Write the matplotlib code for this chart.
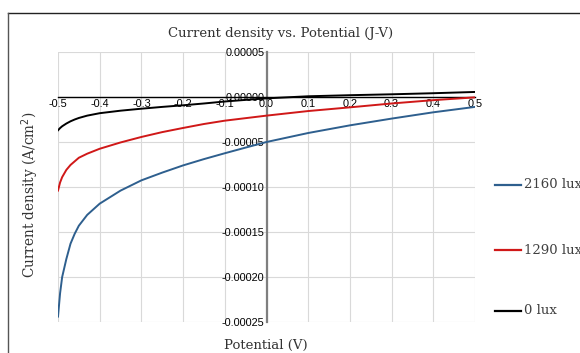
import matplotlib.pyplot as plt
import matplotlib.lines as mlines
from matplotlib import font_manager

# -------------------------
# Data
# -------------------------
potential = [-0.5, -0.495, -0.49, -0.48, -0.47, -0.46, -0.45, -0.43, -0.4, -0.35,
             -0.3, -0.25, -0.2, -0.15, -0.1, -0.05, 0.0, 0.1, 0.2, 0.3, 0.4, 0.5]

j_2160 = [-2.44e-4, -2.18e-4, -2.00e-4, -1.80e-4, -1.63e-4, -1.52e-4, -1.43e-4,
          -1.31e-4, -1.185e-4, -1.04e-4, -0.926e-4, -0.84e-4, -0.76e-4, -0.69e-4,
          -0.625e-4, -0.562e-4, -0.50e-4, -0.40e-4, -0.315e-4, -0.24e-4,
          -0.17e-4, -0.11e-4]

j_1290 = [-1.04e-4, -0.95e-4, -0.89e-4, -0.81e-4, -0.755e-4, -0.715e-4, -0.675e-4,
          -0.63e-4, -0.575e-4, -0.505e-4, -0.444e-4, -0.39e-4, -0.344e-4, -0.30e-4,
          -0.263e-4, -0.235e-4, -0.207e-4, -0.156e-4, -0.115e-4, -0.072e-4,
          -0.035e-4, -0.004e-4]

j_0 = [-3.7e-5, -3.45e-5, -3.25e-5, -2.95e-5, -2.7e-5, -2.5e-5, -2.33e-5, -2.07e-5,
       -1.8e-5, -1.52e-5, -1.3e-5, -1.1e-5, -0.92e-5, -0.72e-5, -0.5e-5, -0.32e-5,
       -0.15e-5, 0.08e-5, 0.2e-5, 0.3e-5, 0.42e-5, 0.56e-5]

series_labels = ["2160 lux", "1290 lux", "0 lux"]
series_colors = ["#2e5f8e", "#d01818", "#000000"]

x_ticks = [-0.5, -0.4, -0.3, -0.2, -0.1, 0.0, 0.1, 0.2, 0.3, 0.4, 0.5]
x_tick_labels = ["-0.5", "-0.4", "-0.3", "-0.2", "-0.1", "0.0", "0.1", "0.2", "0.3", "0.4", "0.5"]
y_ticks = [0.00005, 0.0, -0.00005, -0.0001, -0.00015, -0.0002, -0.00025]
y_tick_labels = ["0.00005", "0.00000", "-0.00005", "-0.00010", "-0.00015", "-0.00020", "-0.00025"]

# -------------------------
# Plot
# -------------------------
serif = "DejaVu Serif"
installed = {f.name for f in font_manager.fontManager.ttflist}
tickfont = "Liberation Sans Narrow" if "Liberation Sans Narrow" in installed else "Liberation Sans"

fig = plt.figure(figsize=(5.8, 3.53), dpi=100)
ax = fig.add_axes([58 / 580, 1 - 322 / 353, (475 - 58) / 580, (322 - 52) / 353])

for ys, lab, col in zip([j_2160, j_1290, j_0], series_labels, series_colors):
    ax.plot(potential, ys, color=col, lw=1.4, label=lab, zorder=3)

ax.set_xlim(-0.5, 0.5)
ax.set_ylim(-0.00025, 0.00005)
ax.tick_params(length=0, pad=1.5, labelsize=7.8, labelfontfamily=tickfont)
ax.set_xticks(x_ticks)
ax.set_xticklabels(x_tick_labels)
ax.set_yticks(y_ticks)
ax.set_yticklabels(y_tick_labels)

ax.grid(True, color="#d9d9d9", lw=0.8, zorder=0)
ax.set_axisbelow(True)

ax.spines["left"].set_position(("data", 0))
ax.spines["left"].set_color("#7f7f7f")
ax.spines["left"].set_linewidth(1.6)
ax.spines["bottom"].set_position(("data", 0))
ax.spines["bottom"].set_color("#000000")
ax.spines["bottom"].set_linewidth(1.0)
ax.spines["top"].set_visible(False)
ax.spines["right"].set_visible(False)

# titles
fig.text(281 / 580, 1 - 34 / 353, "Current density vs. Potential (J-V)",
         ha="center", va="center", family=serif, fontsize=9.5, color="#333333")
fig.text(266 / 580, 1 - 345 / 353, "Potential (V)",
         ha="center", va="center", family=serif, fontsize=9.5, color="#333333")
fig.text(30 / 580, 1 - 195 / 353, "Current density (A/cm$^2$)",
         ha="center", va="center", rotation=90, family=serif, fontsize=9.8, color="#333333")

# legend on the right (text runs off the right edge as in the reference)
leg_y = [185, 250, 311]
for yy, lab, col in zip(leg_y, series_labels, series_colors):
    fy = 1 - yy / 353
    fig.add_artist(mlines.Line2D([495 / 580, 521 / 580], [fy, fy], color=col, lw=1.6))
    fig.text(524 / 580, fy, lab, ha="left", va="center", family=serif,
             fontsize=9.5, color="#404040")

# chart frame (top and left edges)
fig.add_artist(mlines.Line2D([8 / 580, 1.0], [1 - 13 / 353, 1 - 13 / 353], color="#222222", lw=1.0))
fig.add_artist(mlines.Line2D([8 / 580, 8 / 580], [0.0, 1 - 13 / 353], color="#555555", lw=1.0))

fig.savefig("out.png", dpi=100)
